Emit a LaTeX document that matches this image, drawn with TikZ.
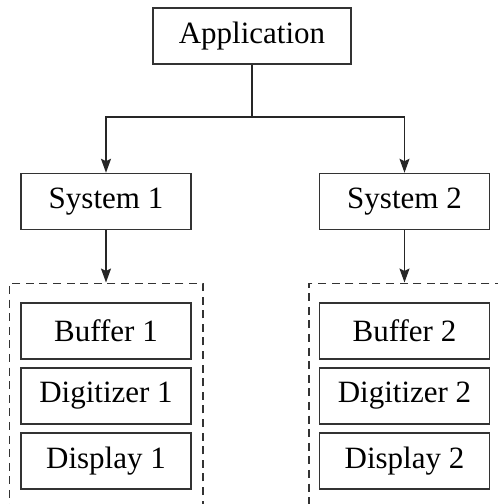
\documentclass[tikz,border=0pt]{standalone}
\usepackage{fontspec}
\setmainfont{Liberation Serif}
\usetikzlibrary{arrows.meta, positioning, fit, calc}

\begin{document}
\begin{tikzpicture}[
      font=\fontsize{15.5}{18}\selectfont,
      >={Stealth[length=7pt, width=5pt, inset=1.2pt]},
      line/.style     = {line width=0.75pt, draw=black!85, ->},
      block/.style    = {rectangle, draw=black!80, line width=0.75pt,
        align=center, minimum width=85pt, minimum height=28pt, inner sep=2pt},
      group/.style    = {draw=black!80, line width=0.75pt,
        dash pattern=on 4pt off 2.8pt, inner xsep=5pt, inner ysep=9.5pt}
    ]

    % frame of the picture (the dashed groups run off its edges)
    \clip (0,0) rectangle (249pt,-252pt);

    % ---------------- top level ----------------
    \node[block, minimum width=99pt] (app) at (126pt,-18pt) {Application};

    \node[block, below=54pt of app, xshift=-73pt] (sys1) {System 1};
    \node[block, right=63.5pt of sys1]            (sys2) {System 2};

    % ---------------- stacks ----------------
    \node[block, below=36pt of sys1]   (buf1)  {Buffer 1};
    \node[block, below=3.75pt of buf1] (digi1) {Digitizer 1};
    \node[block, below=3.75pt of digi1](disp1) {Display 1};

    \node[block, below=36pt of sys2]   (buf2)  {Buffer 2};
    \node[block, below=3.75pt of buf2] (digi2) {Digitizer 2};
    \node[block, below=3.75pt of digi2](disp2) {Display 2};

    % dashed containers
    \coordinate[below=12pt of disp1.south] (end1);
    \coordinate (end2) at ($(disp2.south east)+(6pt,-12pt)$);
    \node[group, inner xsep=5.5pt, fit=(buf1)(end1)] (grp1) {};
    \node[group, fit=(buf2)(end2)] (grp2) {};

    % ---------------- arrows ----------------
    \coordinate[below=26pt of app.south] (split);
    \draw[line, -] (app.south) -- (split);
    \draw[line] (split) -| (sys1.north);
    \draw[line] (split) -| (sys2.north);

    \draw[line] (sys1.south) -- (grp1.north);
    \draw[line] (sys2.south) -- (sys2.south |- grp2.north);

  \end{tikzpicture}
\end{document}
